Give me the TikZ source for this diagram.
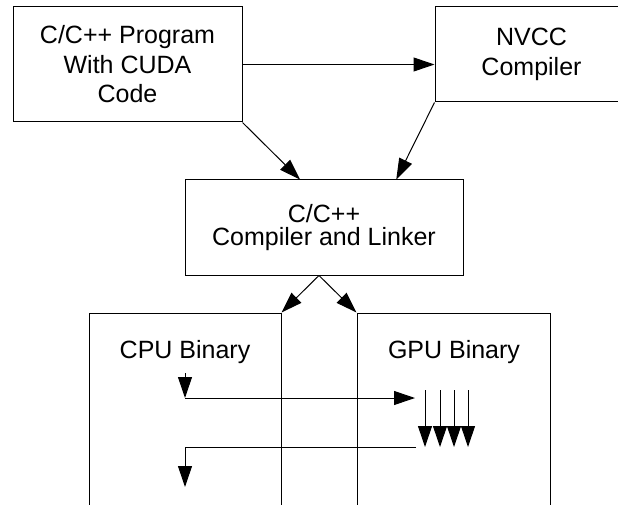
\documentclass[tikz,border=0pt]{standalone}
\usepackage{fontspec}
\setmainfont{Liberation Sans}
\usetikzlibrary{arrows.meta, positioning, calc}

\begin{document}
\begin{tikzpicture}[x=1pt, y=-1pt, line width=1pt,
    font=\fontsize{25}{29.5}\selectfont,
    box/.style={draw, rectangle, align=center, inner sep=0pt},
    arr/.style={-{Triangle[length=21pt, width=14pt]}}]
    \useasboundingbox (0,0) rectangle (618,505);

    % compile stages
    \node[box, minimum width=229pt, minimum height=115pt] (prog) at (127.5,64.5) {C/C++ Program\\With CUDA\\Code};
    \node[box, minimum width=193pt, minimum height=95pt] (nvcc) at (531.5,54.5) {NVCC\\Compiler};
    \node[box, minimum width=278pt, minimum height=95pt] (comp) at (324,227.5) {\raisebox{5pt}{\shortstack{C/C++\\[2pt]Compiler and Linker}}};

    % binaries
    \node[box, minimum width=192pt, minimum height=217pt] (cpu) at (185,421.5) {};
    \node[box, minimum width=193pt, minimum height=217pt] (gpu) at (453.5,421.5) {};
    \node (cpulbl) at (185,352) {CPU Binary};
    \node (gpulbl) at (454,352) {GPU Binary};

    % flow
    \draw[arr] (prog.east) -- (prog.east -| nvcc.west);
    \draw[arr] (prog.south east) -- ($(comp.north west)!0.414!(comp.north east)$);
    \draw[arr] (nvcc.south west) -- ($(comp.north west)!0.759!(comp.north east)$);
    \coordinate (split) at ($(comp.south west)!0.482!(comp.south east)$);
    \draw[arr] (split) -- (cpu.north east);
    \draw[arr] (split) -- (gpu.north west);

    % execution
    \coordinate (c0) at (185,373);
    \coordinate (c1) at (185,398);
    \coordinate (g0) at (415,398);
    \coordinate (g1) at (416,447);
    \coordinate (c2) at (185,487);
    \draw[arr] (c0) -- (c1);
    \draw[arr] (c1) -- (g0);
    \foreach \x in {425,440,454,468}
        \draw[arr] (\x,390) -- (\x,447);
    \draw[arr] (g1) -| (c2);
\end{tikzpicture}
\end{document}
